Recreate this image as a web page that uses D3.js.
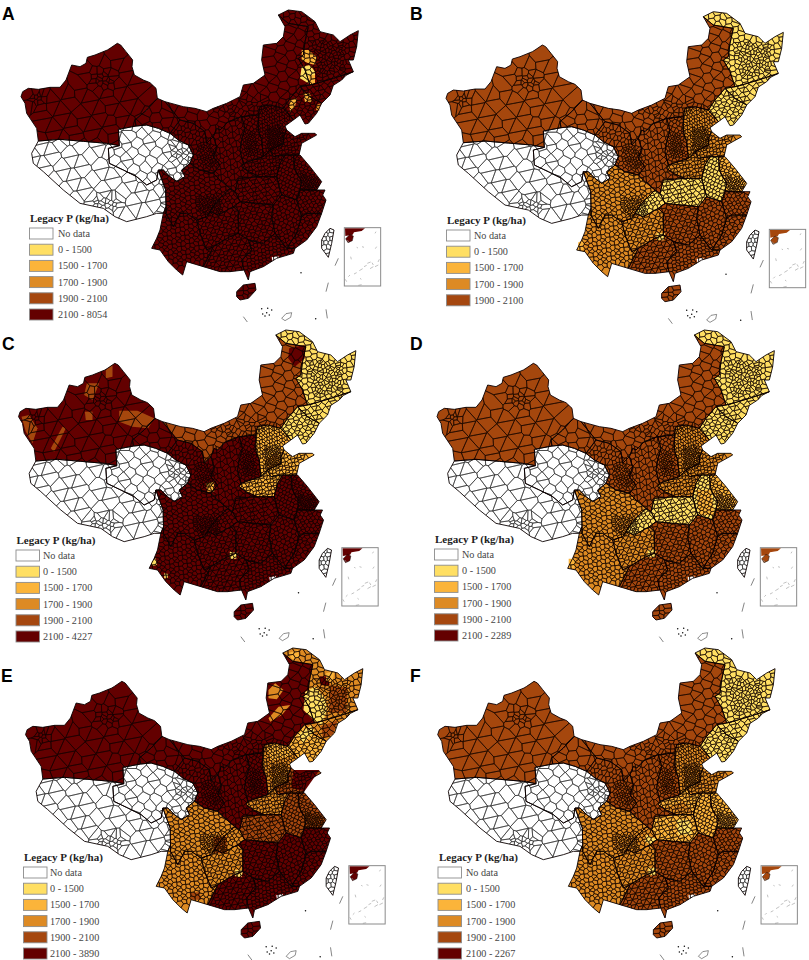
<!DOCTYPE html>
<html><head><meta charset="utf-8">
<script src="https://cdn.jsdelivr.net/npm/d3@7"></script>
<style>html,body{margin:0;background:#fff}svg{display:block}</style></head>
<body><svg id="c" width="809" height="960"></svg>
<script>
// ---------- data ----------
const panelLetters = ["A","B","C","D","E","F"];
const legendTitle = "Legacy P (kg/ha)";
const legendLabels = ["No data","0 - 1500","1500 - 1700","1700 - 1900","1900 - 2100"];
const legendTopLabels = ["2100 - 8054",null,"2100 - 4227","2100 - 2289","2100 - 3890","2100 - 2267"];
const classColors = ["#ffffff","#ffdf63","#fbb43a","#dd8a24","#a5470f","#640000"];

// province-scale rings (map units)
const zoneNames = ["xinjiang","gansuW","qinghai","tibet","sichuan","chongqing","hubei","yunnan","guizhou","hunan","jiangxi","zhejiang","fujian","guangdong","guangxi","hainan","taiwan","anhui","jiangsu","henan","shanxi","shaanxi","gansuE","innerMongolia","heilongjiang","jilin","liaoning","hebei","shandong"];
const zoneRings = [
[[63,290],[68,275],[85,265],[115,268],[150,262],[180,262],[198,240],[215,195],[240,200],[258,190],[262,172],[285,165],[322,150],[330,145],[352,130],[362,135],[378,155],[398,180],[396,200],[403,225],[430,240],[450,248],[468,265],[472,295],[440,330],[405,360],[408,378],[355,388],[358,437],[320,430],[250,424],[180,418],[115,423],[110,385],[80,340],[75,310]],
[[405,360],[440,330],[472,295],[495,305],[540,360],[510,400],[475,385],[440,375],[408,378]],
[[355,388],[408,378],[440,375],[475,385],[510,400],[535,420],[565,435],[580,465],[570,490],[545,510],[555,530],[530,545],[510,530],[490,510],[475,510],[470,540],[440,555],[410,530],[370,510],[328,490],[325,445],[358,437]],
[[115,423],[180,418],[250,424],[320,430],[358,437],[325,445],[328,490],[370,510],[410,530],[440,555],[470,540],[475,510],[497,570],[498,620],[490,640],[470,640],[440,650],[380,665],[345,650],[310,625],[240,610],[190,570],[130,515],[100,490],[95,460]],
[[475,510],[490,510],[510,530],[530,545],[555,530],[545,510],[570,490],[600,510],[640,520],[660,540],[690,565],[650,605],[630,635],[620,650],[590,660],[560,640],[540,640],[520,680],[498,640],[498,620],[497,570]],
[[690,565],[705,575],[720,605],[700,620],[655,645],[630,635],[650,605]],
[[715,535],[780,530],[830,530],[845,585],[820,615],[720,605],[705,575]],
[[498,620],[498,640],[520,680],[540,640],[560,640],[590,660],[600,700],[620,750],[640,740],[610,800],[560,785],[548,825],[530,810],[505,785],[480,750],[455,745],[470,715],[480,690],[490,640]],
[[590,660],[620,650],[630,635],[655,645],[700,620],[715,635],[715,700],[690,710],[640,740],[620,750],[600,700]],
[[715,635],[700,620],[720,605],[820,615],[815,650],[825,700],[790,730],[745,720],[715,700]],
[[820,615],[845,585],[890,600],[905,650],[890,700],[860,745],[825,700],[815,650]],
[[890,600],[900,570],[950,570],[975,570],[968,585],[978,600],[965,640],[920,640],[905,650]],
[[905,650],[920,640],[965,640],[950,680],[920,720],[885,745],[860,745],[890,700]],
[[745,720],[790,730],[825,700],[860,745],[885,745],[880,760],[830,775],[790,800],[750,815],[745,840],[732,810],[725,780],[755,750]],
[[640,740],[690,710],[715,700],[745,720],[755,750],[725,780],[732,810],[690,815],[660,815],[610,800]],
[[710,875],[730,855],[765,850],[768,870],[745,895],[720,900],[710,890]],
[[975,700],[990,685],[1002,690],[995,730],[985,772],[965,745],[965,720]],
[[855,465],[840,490],[830,530],[845,585],[890,600],[900,570],[905,545],[885,510],[880,465]],
[[880,465],[900,465],[930,500],[965,545],[950,570],[900,570],[905,545],[885,510]],
[[730,490],[790,470],[810,450],[820,470],[855,465],[840,490],[830,530],[780,530],[745,515],[725,500]],
[[725,350],[775,345],[775,390],[785,420],[790,470],[730,490],[720,450],[725,420],[735,385]],
[[650,385],[660,390],[685,365],[725,350],[735,385],[725,420],[720,450],[730,490],[725,500],[745,515],[780,530],[715,535],[705,575],[690,565],[660,540],[640,520],[660,495],[640,470],[650,440],[640,410]],
[[540,360],[580,370],[615,395],[620,430],[640,410],[650,440],[640,470],[660,495],[640,520],[600,510],[570,490],[580,465],[565,435],[535,420],[510,400]],
[[495,305],[550,320],[585,325],[620,335],[640,325],[680,310],[720,290],[730,255],[760,250],[795,225],[785,180],[790,135],[830,130],[850,110],[855,80],[835,45],[865,70],[925,80],[915,125],[910,165],[895,175],[915,210],[930,255],[900,260],[870,295],[850,325],[810,315],[780,320],[775,345],[725,350],[685,365],[660,390],[650,385],[640,410],[620,430],[615,395],[580,370],[540,360]],
[[835,45],[865,30],[905,35],[945,65],[960,95],[1000,105],[1020,125],[1050,105],[1075,92],[1070,140],[1060,180],[1045,180],[1060,215],[1000,235],[950,250],[930,255],[915,210],[895,175],[910,165],[915,125],[925,80],[865,70]],
[[930,255],[950,250],[1000,235],[1060,215],[1038,226],[1025,240],[1000,256],[990,285],[965,310],[930,290],[900,260]],
[[850,325],[870,295],[900,260],[930,290],[965,310],[950,340],[925,370],[915,372],[900,345],[880,360]],
[[775,345],[780,320],[810,315],[850,325],[880,360],[855,378],[860,390],[850,410],[850,430],[810,450],[790,470],[785,420],[775,390]],
[[850,410],[860,390],[885,410],[905,400],[945,400],[950,405],[905,430],[897,465],[880,465],[855,465],[820,470],[810,450],[850,430]]
];
const zoneCountySpacing = [34,28,28,34,13,11,12,13,12,12,12,11,12,11,12,14,13,11,10,10,12,14,13,26,16,14,12,9,10];

// dominant class of every zone, same order as zoneNames
const classesA = [5,5,0,0,5,5,5,5,5,5,5,5,5,5,5,5,0,5,5,5,5,5,5,5,5,5,5,5,5];
const classesB = [4,4,0,0,3,1,1,3,3,4,4,4,4,4,4,4,0,1,2,3,4,4,4,4,1,1,1,3,3];
const classesC = [5,5,0,0,5,5,5,5,5,5,5,5,5,5,5,5,0,5,5,2,5,5,5,4,1,1,1,2,2];
const classesD = [4,4,0,0,3,1,1,3,3,4,4,4,4,4,4,4,0,1,2,3,4,4,4,4,1,1,1,3,3];
const classesE = [5,5,0,0,3,3,4,3,3,5,5,5,5,5,5,5,0,4,4,3,5,5,5,5,3,3,2,3,4];
const classesF = [4,4,0,0,3,3,2,3,3,4,4,4,4,4,4,4,0,2,2,2,4,4,4,4,1,1,1,3,3];
const panelClasses = [classesA,classesB,classesC,classesD,classesE,classesF];

// areas inside a zone whose class differs: [class, ring]
const patchesA = [
 [2,[[905,150],[925,150],[950,170],[945,195],[925,190],[905,180]]],
 [1,[[905,200],[930,195],[945,215],[945,240],[925,250],[900,235]]],
 [2,[[925,225],[945,225],[945,250],[930,255]]],
 [2,[[870,300],[890,295],[885,320],[870,335],[868,315]]],
 [2,[[910,280],[930,280],[935,305],[915,305]]],
 [3,[[950,315],[962,310],[958,332],[948,330]]]];
const patchesB = [
 [1,[[695,695],[720,695],[716,716],[695,716]]],
 [2,[[460,722],[478,716],[475,745],[458,745]]]];
const patchesC = [
 [5,[[875,85],[922,75],[922,115],[892,140],[872,115]]],
 [1,[[697,695],[720,698],[716,716],[697,716]]],
 [1,[[462,725],[475,715],[478,735],[465,738]]],
 [1,[[500,760],[512,762],[510,775],[500,775]]],
 [4,[[365,272],[420,272],[470,295],[452,325],[405,320],[365,305]]],
 [4,[[268,190],[305,190],[285,240],[260,225]]],
 [4,[[262,275],[285,275],[285,300],[265,300]]],
 [4,[[325,150],[345,135],[345,170],[325,175]]],
 [4,[[72,290],[95,285],[120,325],[105,370],[85,335]]],
 [4,[[195,320],[205,325],[170,395],[160,385]]],
 [2,[[625,490],[650,485],[650,515],[630,515]]],
 [3,[[800,420],[840,400],[850,430],[810,450]]]];
const patchesD = [
 [1,[[695,690],[720,690],[716,712],[695,712]]],
 [2,[[458,716],[478,716],[475,745],[458,745]]],
 [2,[[840,510],[885,510],[895,585],[850,585]]]];
const patchesE = [
 [3,[[792,156],[812,136],[837,156],[817,184],[792,181]]],
 [3,[[792,241],[822,206],[857,201],[832,231],[797,251]]],
 [5,[[840,130],[857,170],[857,196],[839,156]]],
 [2,[[852,45],[880,36],[885,60],[862,64]]],
 [5,[[945,115],[972,115],[975,142],[948,142]]],
 [2,[[965,105],[990,100],[985,130],[965,130]]],
 [4,[[975,140],[1030,150],[1025,225],[975,225]]],
 [1,[[902,161],[932,146],[962,181],[967,216],[952,261],[927,246],[897,216]]],
 [1,[[880,290],[920,262],[930,280],[895,315]]],
 [4,[[950,265],[1000,245],[985,290],[955,300]]],
 [2,[[785,325],[810,315],[850,325],[865,350],[800,370]]],
 [5,[[867,396],[945,396],[900,460],[860,450]]],
 [4,[[627,596],[667,596],[667,646],[627,646]]],
 [1,[[692,696],[715,696],[712,716],[692,716]]],
 [4,[[555,765],[585,762],[590,785],[560,785]]]];
const patchesF = [
 [1,[[695,690],[720,690],[716,712],[695,712]]],
 [1,[[690,590],[722,605],[700,620],[685,610]]],
 [1,[[780,545],[820,545],[825,590],[785,590]]],
 [3,[[740,510],[800,490],[830,525],[780,530]]]];
const panelPatches = [patchesA,patchesB,patchesC,patchesD,patchesE,patchesF];

// pockets of smaller counties: [spacing, ring]
const denseAreas = [
 [8,[[590,590],[660,585],[665,640],[600,650]]],
 [7,[[800,380],[850,380],[850,440],[805,450]]],
 [7,[[900,520],[955,530],[950,568],[905,565]]],
 [8,[[730,395],[770,395],[780,460],[735,470]]],
 [14,[[280,215],[345,215],[345,262],[285,262]]],
 [13,[[270,590],[360,590],[360,640],[280,620]]],
 [13,[[510,430],[575,440],[575,490],[520,480]]],
 [11,[[90,280],[130,280],[130,310],[95,315]]],
 [16,[[640,320],[775,290],[850,325],[775,345],[680,365]]],
 [13,[[930,120],[1040,130],[1040,210],[950,240]]],
 [9,[[595,430],[650,440],[650,510],[600,500]]]
];
const inletRing = [[815,772],[835,768],[838,785],[828,795],[818,785]];
const insetCoast = [[1035,685],[1095,685],[1085,693],[1062,697],[1058,704],[1036,708]];
const insetHainan = [[1037,716],[1050,703],[1060,708],[1057,722],[1044,728]];
const insetDashes = [[[1125,700],[1128,695]],[[1042,720],[1048,728]],[[1070,742],[1074,744]],[[1086,740],[1092,742]],[[1130,740],[1126,746]],[[1052,770],[1054,778]],[[1138,778],[1134,786]],[[1102,790],[1112,786]],[[1116,788],[1120,795]],[[1092,800],[1100,796]],[[1110,806],[1120,800]],[[1078,812],[1088,806]],[[1062,822],[1070,818]],[[1045,830],[1050,825]],[[1080,835],[1084,838]],[[1036,838],[1040,845]],[[1075,856],[1085,854]],[[1125,800],[1135,795]]];
const seaDashes = [[[1015,775],[1005,797]],[[985,848],[978,875]],[[978,928],[982,955]],[[730,950],[742,966]]];
const seaDots = [[903,818],[947,956],[785,926],[800,938],[788,942],[795,948],[808,945],[815,930],[803,925]];
const seaIsland = [[845,955],[858,941],[875,938],[872,952],[855,962]];

// ---------- layout ----------
const mapOrigin = [[0,0],[425,1.7],[-2.5,320],[416,320],[4.5,638],[416.7,638]];
const letterPos = [[2,20],[410,20],[2,350],[410,350],[1,682],[410,682]];
const legendPos = [[29.5,228,30,58],[446.5,230,447,474],[16,550,16.5,43],[434.5,549,435,462],[23.5,867,24,50],[438,867,439,466]];
const svg = d3.select("#c");
const blur = svg.append("defs").append("filter").attr("id","soft").attr("x","-2%").attr("y","-2%").attr("width","104%").attr("height","104%");
blur.append("feGaussianBlur").attr("stdDeviation",0.22);

// County mesh. Real county borders cannot be read at this size, so a single Voronoi
// over evenly spread (R2 sequence) points stands in, denser where the picture is denser.
function seedsIn(ring, spacing, shift){
  const [x0,x1]=d3.extent(ring,p=>p[0]), [y0,y1]=d3.extent(ring,p=>p[1]);
  const n=Math.max(3,Math.round((x1-x0)*(y1-y0)/(spacing*spacing)));
  return d3.range(n).map(i=>[x0+(x1-x0)*((shift+i*.7548776662)%1), y0+(y1-y0)*((shift*1.7+i*.5698402910)%1)])
    .filter(p=>d3.polygonContains(ring,p));
}
const allSeeds = zoneRings.flatMap((r,i)=>seedsIn(r,zoneCountySpacing[i],.13+i*.037))
  .concat(denseAreas.flatMap((d,i)=>seedsIn(d[1],d[0],.31+i*.053)));
const voronoi = d3.Delaunay.from(allSeeds).voronoi([0,0,1215,960]);
const countyLines = {type:"MultiLineString",coordinates:Array.from(voronoi.cellPolygons())};

panelLetters.forEach((letter,k)=>{
  const [ox,oy]=mapOrigin[k];
  const x=d3.scaleLinear().domain([0,1215]).range([ox,ox+405]);
  const y=d3.scaleLinear().domain([0,960]).range([oy,oy+320]);
  const path=d3.geoPath(d3.geoTransform({point(a,b){this.stream.point(x(a),y(b));}}));
  const poly=r=>path({type:"Polygon",coordinates:[r.concat([r[0]])]});
  const g=svg.append("g").attr("filter","url(#soft)");
  const defs=g.append("defs");
  const classes=panelClasses[k];
  const meshD=path(countyLines);

  zoneRings.forEach((r,i)=>{
    g.append("path").attr("d",poly(r)).attr("fill",classColors[classes[i]]);
  });
  g.selectAll("path.patch").data(panelPatches[k]).join("path").attr("class","patch")
    .attr("d",d=>poly(d[1])).attr("fill",d=>classColors[d[0]]);
  g.append("path").attr("d",poly(inletRing)).attr("fill","#fff");

  defs.append("clipPath").attr("id",`dat${k}`).selectAll("path")
    .data(zoneRings.filter((r,i)=>classes[i]!==0)).join("path").attr("d",poly);
  defs.append("clipPath").attr("id",`nod${k}`).selectAll("path")
    .data(zoneRings.filter((r,i)=>classes[i]===0)).join("path").attr("d",poly);
  g.append("path").attr("d",meshD).attr("clip-path",`url(#dat${k})`)
    .attr("fill","none").attr("stroke","#150600").attr("stroke-width",0.62);
  g.append("path").attr("d",meshD).attr("clip-path",`url(#nod${k})`)
    .attr("fill","none").attr("stroke","#2a2a2a").attr("stroke-width",0.6);

  zoneRings.forEach(r=>{
    g.append("path").attr("d",poly(r)).attr("fill","none").attr("stroke","#0a0000")
      .attr("stroke-width",0.9).attr("stroke-linejoin","round");
  });
  g.selectAll("path.dash").data(seaDashes).join("path").attr("class","dash")
    .attr("d",d=>path({type:"LineString",coordinates:d})).attr("stroke","#666").attr("stroke-width",0.8).attr("fill","none");
  g.selectAll("circle.dot").data(seaDots).join("circle").attr("class","dot")
    .attr("cx",d=>x(d[0])).attr("cy",d=>y(d[1])).attr("r",0.75).attr("fill","#111");
  g.append("path").attr("d",poly(seaIsland)).attr("fill","#fff").attr("stroke","#444").attr("stroke-width",0.6);

  const insetColor=classColors[classes[zoneNames.indexOf("guangdong")]];
  g.append("path").attr("d",poly(insetCoast)).attr("fill",insetColor);
  g.append("path").attr("d",poly(insetHainan)).attr("fill",insetColor).attr("stroke","#111").attr("stroke-width",0.5);
  g.selectAll("path.islet").data(insetDashes).join("path").attr("class","islet")
    .attr("d",d=>path({type:"LineString",coordinates:d})).attr("stroke","#999").attr("stroke-width",0.6).attr("fill","none");
  g.append("rect").attr("x",x(1033)).attr("y",y(683)).attr("width",x(1142)-x(1033)).attr("height",y(858)-y(683))
    .attr("fill","none").attr("stroke","#8a8a8a").attr("stroke-width",1);

  svg.append("text").attr("x",letterPos[k][0]).attr("y",letterPos[k][1]).text(letter)
    .attr("font-family","'Liberation Sans',Arial,sans-serif").attr("font-weight","700").attr("font-size",17.5).attr("fill","#000");

  const [sx,sy,tx,lx]=legendPos[k];
  const rows=legendLabels.map((t,i)=>[t,i]);
  if(legendTopLabels[k]) rows.push([legendTopLabels[k],5]);
  const rowY=d3.scaleLinear().domain([0,5]).range([sy,sy+81]);
  const lg=svg.append("g").attr("font-family","'Liberation Serif','Times New Roman',serif");
  lg.append("text").attr("x",tx).attr("y",sy-6.5).text(legendTitle).attr("font-weight","700").attr("font-size",11).attr("fill","#222");
  rows.forEach(([t,i])=>{
    lg.append("rect").attr("x",sx).attr("y",rowY(i)).attr("width",23.5).attr("height",11)
      .attr("fill",classColors[i]).attr("stroke","#8c8c8c").attr("stroke-width",0.9);
    lg.append("text").attr("x",lx).attr("y",rowY(i)+9).text(t).attr("font-size",10.2).attr("fill","#444");
  });
});
</script></body></html>
